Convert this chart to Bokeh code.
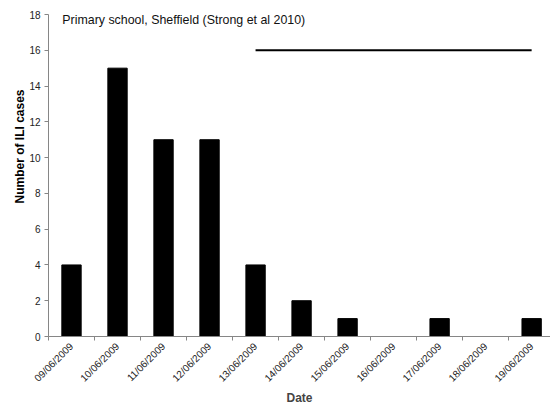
import math
from bokeh.plotting import figure
from bokeh.models import Range1d, FixedTicker, ColumnDataSource, Title
from bokeh.core.properties import value
from bokeh.embed import file_html
from bokeh.resources import INLINE

# ---- data ----
dates = ["09/06/2009", "10/06/2009", "11/06/2009", "12/06/2009", "13/06/2009",
         "14/06/2009", "15/06/2009", "16/06/2009", "17/06/2009", "18/06/2009",
         "19/06/2009"]
cases = [4, 15, 11, 11, 4, 2, 1, 0, 1, 0, 1]
period_dates = ["13/06/2009", "19/06/2009"]
period_level = 16
y_ticks = [0, 2, 4, 6, 8, 10, 12, 14, 16, 18]
title_text = "Primary school, Sheffield (Strong et al 2010)"
x_title = "Date"
y_title = "Number of ILI cases"

FONT = "Liberation Sans"

centers = [i + 0.5 for i in range(len(dates))]
boundaries = list(range(len(dates) + 1))

p = figure(width=550, height=408, output_backend="svg", toolbar_location=None,
           x_range=Range1d(0, 10.91), y_range=Range1d(0, 18),
           min_border_left=48, min_border_right=0, min_border_top=14,
           min_border_bottom=72)
p.outline_line_color = None
p.xgrid.grid_line_color = None
p.ygrid.grid_line_color = None
p.background_fill_color = "white"

src = ColumnDataSource(dict(x=centers, top=cases))
p.vbar(x="x", top="top", width=0.42, bottom=0, source=src,
       fill_color="black", line_color="black")

lx = [dates.index(d) + 0.5 for d in period_dates]
p.line(x=lx, y=[period_level, period_level], line_color="black", line_width=2)

p.text(x=[0.3], y=[17.72], text=[title_text], text_font=value(FONT),
       text_font_size="12.4px", text_baseline="middle", text_align="left",
       text_color="#111111")

# x axis
xa = p.xaxis[0]
xa.ticker = FixedTicker(ticks=centers, minor_ticks=boundaries)
xa.major_label_overrides = {c: d for c, d in zip(centers, dates)}
xa.major_label_orientation = math.pi / 4
xa.major_tick_line_color = None
xa.minor_tick_line_color = "#868686"
xa.minor_tick_in = 0
xa.minor_tick_out = 4
xa.axis_line_color = "#868686"
xa.major_label_text_font = FONT
xa.major_label_text_font_size = "10px"
xa.major_label_text_color = "#222222"
xa.major_label_standoff = 2
xa.axis_label = x_title
xa.axis_label_text_font = FONT
xa.axis_label_text_font_style = "bold"
xa.axis_label_text_font_size = "12px"
xa.axis_label_standoff = 0

# y axis
ya = p.yaxis[0]
ya.ticker = FixedTicker(ticks=y_ticks)
ya.axis_line_color = "#868686"
ya.major_tick_line_color = "#868686"
ya.major_tick_in = 0
ya.major_tick_out = 4
ya.minor_tick_line_color = None
ya.major_label_text_font = FONT
ya.major_label_text_font_size = "10px"
ya.major_label_text_color = "#222222"
ya.major_label_standoff = 4

p.add_layout(Title(text=y_title, align="left", offset=133, standoff=0,
                   text_font=FONT, text_font_style="bold",
                   text_font_size="12px", text_color="black"), "left")

open("out.html", "w").write(file_html(p, INLINE))
